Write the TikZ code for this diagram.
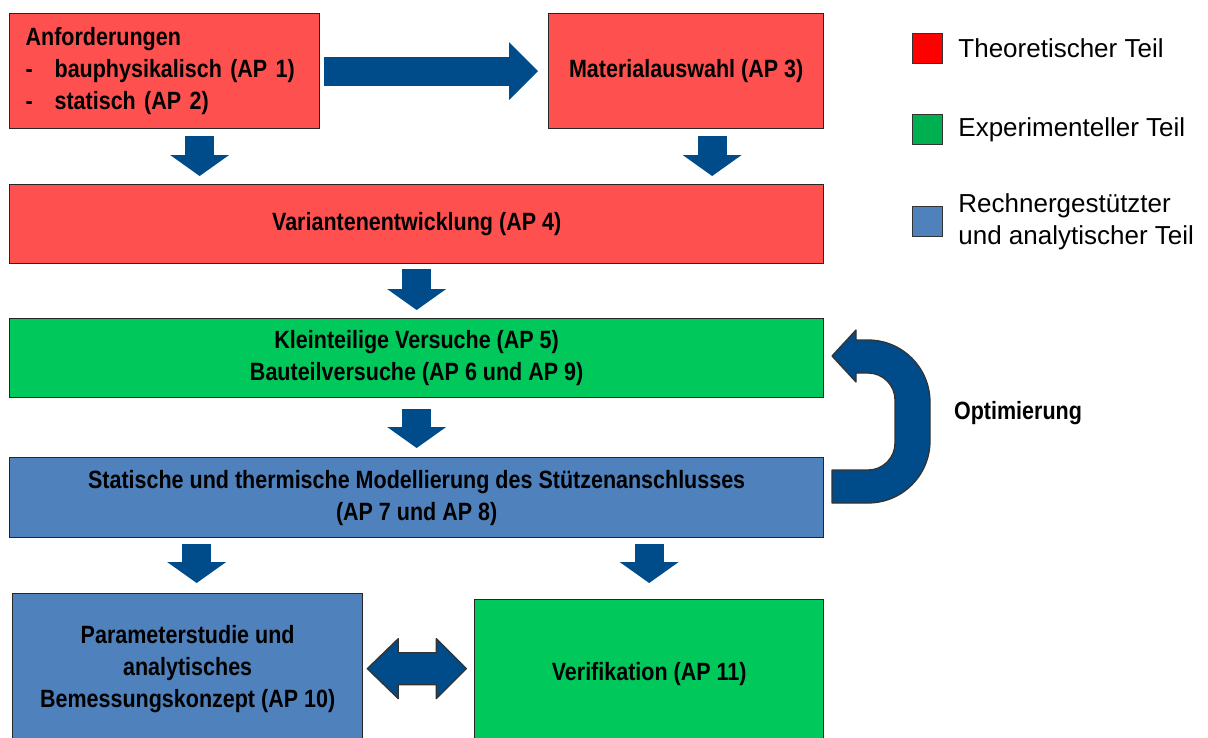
\documentclass[tikz,border=0pt]{standalone}
\usepackage{fontspec}
\setmainfont{Liberation Sans}
\newfontfamily\boxfont{Liberation Sans}[FakeStretch=0.86]
\usetikzlibrary{arrows.meta}

\definecolor{redbox}{RGB}{255,80,80}
\definecolor{greenbox}{RGB}{0,200,90}
\definecolor{bluebox}{RGB}{79,129,189}
\definecolor{arrowblue}{RGB}{0,76,138}
\definecolor{legred}{RGB}{255,0,0}
\definecolor{leggreen}{RGB}{0,176,80}

\tikzset{
  apbox/.style={draw=black!85, line width=1.3pt, anchor=north west, inner sep=0pt, align=center,
    font=\boxfont\fontsize{25}{32}\selectfont\bfseries},
  downarrow/.style={draw=arrowblue, line width=29pt, -{Triangle[width=59pt,length=21pt,line width=0pt]}},
  rightarrow/.style={draw=arrowblue, line width=29pt, -{Triangle[width=58pt,length=29pt,line width=0pt]}},
  fatarrow/.style={fill=arrowblue, draw=black!80, line width=1.3pt, line join=round},
  legbox/.style={draw=black!80, line width=1.2pt, minimum size=30pt, inner sep=0pt, anchor=north west},
  legtext/.style={anchor=west, align=left, inner sep=0pt, font=\fontsize{26}{32}\selectfont}
}

\begin{document}
\begin{tikzpicture}[x=1pt,y=-1pt]
  \useasboundingbox (0,0) rectangle (1208,737);

  % work packages
  \node[apbox, fill=redbox, minimum width=310pt, minimum height=115pt, text width=278pt, align=left] (anf) at (9,13)
    {Anforderungen\\\makebox[29pt][l]{-}bauphysikalisch (AP 1)\\\makebox[29pt][l]{-}statisch (AP 2)};
  \node[apbox, fill=redbox, minimum width=275pt, minimum height=115pt] (mat) at (548,13) {Materialauswahl (AP 3)};
  \node[apbox, fill=redbox, minimum width=814pt, minimum height=79pt] (var) at (9,184) {Variantenentwicklung (AP 4)};
  \node[apbox, fill=greenbox, minimum width=814pt, minimum height=79pt] (kv) at (9,318)
    {Kleinteilige Versuche (AP 5)\\Bauteilversuche (AP 6 und AP 9)};
  \node[apbox, fill=bluebox, minimum width=814pt, minimum height=80pt] (mod) at (9,457)
    {Statische und thermische Modellierung des Stützenanschlusses\\(AP 7 und AP 8)};
  \node[apbox, fill=bluebox, minimum width=350pt, minimum height=150pt] (par) at (12,593)
    {Parameterstudie und\\analytisches\\Bemessungskonzept (AP 10)};
  \node[apbox, fill=greenbox, minimum width=349pt, minimum height=148pt] (ver) at (474,599) {Verifikation (AP 11)};

  % arrows
  \coordinate (a1) at ([xshift=35pt]anf.south);
  \coordinate (a2) at ([xshift=26pt]mat.south);
  \coordinate (b1) at ([xshift=9pt]par.north);
  \draw[rightarrow, shorten <=4pt, shorten >=10pt] (anf.east) -- (mat.west);
  \draw[downarrow, shorten <=7pt, shorten >=8pt] (a1) -- (a1 |- var.north);
  \draw[downarrow, shorten <=7pt, shorten >=8pt] (a2) -- (a2 |- var.north);
  \draw[downarrow, shorten <=5pt, shorten >=8pt] (var.south) -- (kv.north);
  \draw[downarrow, shorten <=11pt, shorten >=9pt] (kv.south) -- (mod.north);
  \draw[downarrow, shorten <=6pt, shorten >=10pt] (b1 |- mod.south) -- (b1);
  \draw[downarrow, shorten <=6pt, shorten >=16pt] (ver.north |- mod.south) -- (ver.north);

  \draw[fatarrow] ([xshift=4pt]par.east) -- ++(31,-30) -- ++(0,14) -- ++(38,0) -- ++(0,-14) -- ++(30,30)
    -- ++(-30,30) -- ++(0,-14) -- ++(-38,0) -- ++(0,14) -- cycle;

  \draw[fatarrow] (832,503) -- (868,503) arc[start angle=90, end angle=0, radius=62] -- (930,402)
    arc[start angle=0, end angle=-90, radius=62] -- (856,340) -- (856,330) -- (832,356) -- (856,382)
    -- (856,373) -- (868,373) arc[start angle=-90, end angle=0, radius=27] -- (895,443)
    arc[start angle=0, end angle=90, radius=27] -- (832,470) -- cycle;
  \node[font=\boxfont\fontsize{25}{32}\selectfont\bfseries, inner sep=0pt] (opt) at (1018,413) {Optimierung};

  % legend
  \node[legbox, fill=legred] (lr) at (912,33) {};
  \node[legbox, fill=leggreen] (lg) at (912,114) {};
  \node[legbox, fill=bluebox] (lb) at (912,206) {};
  \node[legtext] (lrt) at ([xshift=15pt]lr.east) {Theoretischer Teil};
  \node[legtext] (lgt) at ([xshift=15pt]lg.east) {Experimenteller Teil};
  \node[legtext] (lbt) at ([xshift=15pt]lb.east) {Rechnergestützter\\und analytischer Teil};
\end{tikzpicture}
\end{document}
